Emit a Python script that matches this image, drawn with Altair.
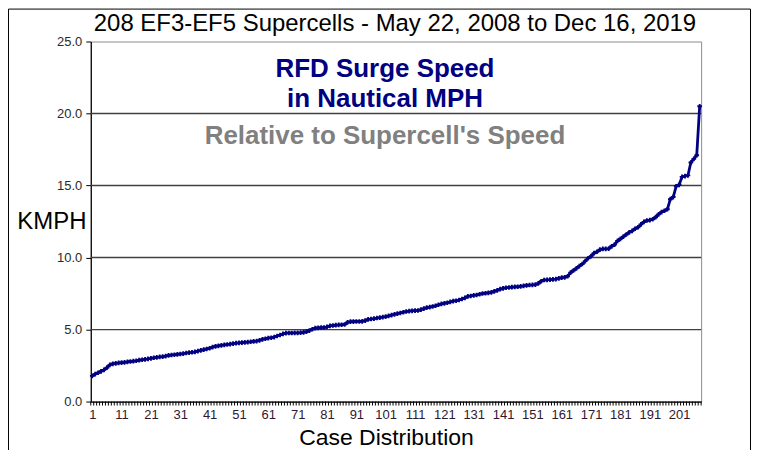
import altair as alt
import pandas as pd

# ---- data ----
speeds = [
    1.78, 1.9, 2.0, 2.1, 2.2, 2.35, 2.55, 2.62, 2.65, 2.68,
    2.7, 2.72, 2.75, 2.78, 2.8, 2.83, 2.87, 2.9, 2.93, 2.96,
    3.0, 3.04, 3.07, 3.1, 3.12, 3.15, 3.2, 3.23, 3.25, 3.28,
    3.3, 3.33, 3.37, 3.4, 3.42, 3.45, 3.5, 3.55, 3.6, 3.65,
    3.7, 3.78, 3.83, 3.87, 3.9, 3.93, 3.96, 3.99, 4.02, 4.05,
    4.07, 4.09, 4.11, 4.13, 4.15, 4.18, 4.2, 4.25, 4.32, 4.36,
    4.4, 4.43, 4.47, 4.55, 4.62, 4.7, 4.75, 4.76, 4.76, 4.77,
    4.77, 4.78, 4.8, 4.85, 4.93, 5.02, 5.1, 5.12, 5.13, 5.14,
    5.18, 5.25, 5.28, 5.3, 5.32, 5.33, 5.35, 5.5, 5.55, 5.55,
    5.56, 5.56, 5.57, 5.62, 5.7, 5.73, 5.76, 5.8, 5.83, 5.86,
    5.9, 5.95, 6.0, 6.05, 6.1, 6.15, 6.2, 6.25, 6.28, 6.3,
    6.31, 6.32, 6.38, 6.45, 6.52, 6.55, 6.6, 6.65, 6.72, 6.78,
    6.82, 6.86, 6.92, 6.97, 7.0, 7.05, 7.12, 7.2, 7.3, 7.33,
    7.37, 7.4, 7.45, 7.5, 7.52, 7.55, 7.58, 7.65, 7.72, 7.8,
    7.86, 7.9, 7.92, 7.94, 7.96, 7.97, 8.0, 8.03, 8.06, 8.09,
    8.1, 8.12, 8.2, 8.35, 8.44, 8.45, 8.46, 8.48, 8.5, 8.55,
    8.6, 8.62, 8.7, 8.95, 9.1, 9.25, 9.4, 9.55, 9.75, 9.95,
    10.1, 10.3, 10.4, 10.55, 10.6, 10.6, 10.62, 10.78, 10.9, 11.15,
    11.3, 11.45, 11.6, 11.75, 11.85, 12.0, 12.1, 12.3, 12.47, 12.57,
    12.6, 12.66, 12.8, 13.0, 13.15, 13.25, 13.35, 14.05, 14.2, 14.95,
    15.05, 15.6, 15.65, 15.7, 16.6, 16.85, 17.1, 20.5,
]
cases = list(range(1, len(speeds) + 1))
x_label_values = list(range(1, 202, 10))
y_tick_values = [0, 5, 10, 15, 20, 25]
grid_values = [5, 10, 15, 20]
tick_boundaries = [c - 0.5 for c in cases] + [len(cases) + 0.5]

title_text = "208 EF3-EF5 Supercells - May 22, 2008 to Dec 16, 2019"
note1 = "RFD Surge Speed"
note2 = "in Nautical MPH"
note3 = "Relative to Supercell's Speed"
x_title = "Case Distribution"
y_title = "KMPH"

FONT = "Liberation Sans"
NAVY = "#000080"
W, H = 612, 361

df = pd.DataFrame({"case": cases, "speed": speeds})
xscale = alt.Scale(domain=[0.5, len(cases) + 0.5], nice=False, zero=False)
yscale = alt.Scale(domain=[0, 25], nice=False)

x_axis = alt.Axis(
    values=x_label_values,
    ticks=False,
    grid=False,
    labelFontSize=13,
    labelColor="#301830",
    labelFont=FONT,
    labelPadding=7,
    domainColor="#000000",
    domainWidth=1.2,
    title=x_title,
    titleFont=FONT,
    titleFontSize=23,
    titleFontWeight="normal",
    titleColor="#000000",
    titleX=W / 2 - 10,
    titleY=43.5,
    titleBaseline="alphabetic",
    titleAlign="center",
    labelFlush=False,
)
y_axis = alt.Axis(
    values=y_tick_values,
    format=".1f",
    grid=False,
    tickSize=5,
    tickColor="#000000",
    labelFontSize=13,
    labelColor="#2a2a2a",
    labelFont=FONT,
    labelPadding=4,
    domainColor="#000000",
    domainWidth=1.2,
    title=y_title,
    titleFont=FONT,
    titleFontSize=24,
    titleFontWeight="normal",
    titleColor="#000000",
    titleAngle=0,
    titleX=-39.5,
    titleY=188,
    titleAlign="center",
    titleBaseline="alphabetic",
)

grid = alt.Chart(pd.DataFrame({"g": grid_values})).mark_rule(
    color="#404040", strokeWidth=1.3
).encode(y=alt.Y("g:Q", scale=yscale, axis=y_axis))

ticks = alt.Chart(pd.DataFrame({"b": tick_boundaries})).mark_rule(
    color="#000000", strokeWidth=1
).encode(
    x=alt.X("b:Q", scale=xscale, axis=x_axis),
    y=alt.value(H),
    y2=alt.value(H + 4),
)

line = alt.Chart(df).mark_line(
    color=NAVY,
    strokeWidth=2.8,
    point=alt.OverlayMarkDef(shape="cross", size=22, color=NAVY, filled=True),
).encode(
    x=alt.X("case:Q", scale=xscale, axis=x_axis),
    y=alt.Y("speed:Q", scale=yscale, axis=y_axis),
)

one = pd.DataFrame({"a": [0]})


def label(text, x, y, size, color, weight):
    return alt.Chart(one).mark_text(
        text=text, font=FONT, fontSize=size, color=color, fontWeight=weight,
        align="center", baseline="alphabetic",
    ).encode(x=alt.value(x), y=alt.value(y))


t_title = label(title_text, 305, -11, 24, "#000000", "normal")
t1 = label(note1, 295, 36, 26, NAVY, "bold")
t2 = label(note2, 295, 66, 26, NAVY, "bold")
t3 = label(note3, 295, 103, 26, "#808080", "bold")

frame = alt.Chart(one).mark_rect(
    filled=False, stroke="#000000", strokeWidth=1
).encode(
    x=alt.value(-82.5), x2=alt.value(661.5), y=alt.value(-32.5), y2=alt.value(430)
)

chart = alt.layer(grid, ticks, line, t_title, t1, t2, t3, frame).properties(
    width=W,
    height=H,
    padding={"left": 83, "top": 33, "right": 50, "bottom": 48},
    autosize=alt.AutoSizeParams(type="none"),
    background="#ffffff",
).configure_view(stroke="#8c8c8c", strokeWidth=1)

chart.save("out.html", embed_options={"renderer": "svg", "actions": False})
